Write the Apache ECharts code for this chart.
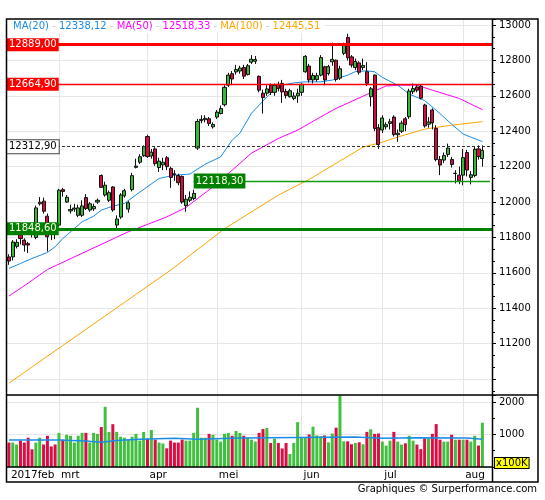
<!DOCTYPE html>
<html><head><meta charset="utf-8">
<script src="https://cdn.jsdelivr.net/npm/echarts@6/dist/echarts.min.js"></script>
<style>html,body{margin:0;padding:0;background:#fff}#c{width:545px;height:500px}</style>
</head><body><div id="c"></div>
<script>
// ---- categories (trading days) ----
const monthLabels = ['2017feb','mrt','apr','mei','jun','jul','aug'];
const febDays = [10,13,14,15,16,17,20,21,22,23,24,27,28];
const marDays = [1,2,3,6,7,8,9,10,13,14,15,16,17,20,21,22,23,24,27,28,29,30,31];
const aprDays = [3,4,5,6,7,10,11,12,13,18,19,20,21,24,25,26,27,28];
const meiDays = [2,3,4,5,8,9,10,11,12,15,16,17,18,19,22,23,24,25,26,29,30,31];
const junDays = [1,2,6,7,8,9,12,13,14,15,16,19,20,21,22,23,26,27,28,29,30];
const julDays = [3,4,5,6,7,10,11,12,13,14,17,18,19,20,21,24,25,26,27,28,31];
const augDays = [1,2,3,4,7,8];

// ---- price series ----
const opens = [11690,11690,11750,11815,11785,11765,11840,11800,11990,12005,11920,11830,11845,
11870,12070,12000,11950,11960,11925,11925,12025,11955,11962,12000,12150,12040,12010,12085,11870,11915,12035,11960,12070,12196,12225,12262,
12370,12260,12300,12195,12210,12250,12190,12160,12150,12145,11980,12010,12020,12305,12460,12465,12470,12425,
12480,12500,12550,12660,12725,12735,12740,12760,12720,12790,12795,12710,12615,12615,12660,12620,12665,12670,12625,12595,12585,12600,
12620,12736,12768,12690,12692,12717,12764,12726,12792,12801,12700,12840,12930,12820,12760,12786,12760,12736,12595,12717,12420,
12407,12425,12444,12480,12380,12400,12470,12482,12623,12650,12655,12548,12440,12520,12416,12240,12237,12269,12240,12161,12152,
12152,12280,12139,12150,12300,12246];
const closes = [11667,11774,11772,11794,11757,11757,11828,11967,11999,11948,11804,11823,11834,
12067,12060,12027,11958,11966,11967,11978,11963,11990,11975,12010,12083,12095,12053,11955,11904,12040,12064,11996,12149,12203,12256,12313,
12257,12282,12217,12231,12225,12200,12139,12155,12109,12000,12016,12027,12049,12455,12467,12473,12444,12438,
12508,12528,12648,12717,12695,12749,12757,12711,12770,12807,12805,12632,12590,12639,12619,12659,12642,12622,12602,12629,12599,12615,
12665,12823,12690,12715,12714,12816,12690,12765,12806,12692,12753,12889,12815,12774,12794,12733,12771,12671,12640,12416,12325,
12475,12437,12454,12381,12389,12446,12437,12627,12641,12632,12587,12430,12452,12447,12240,12209,12263,12305,12212,12163,12118,
12251,12181,12154,12298,12257,12292];
const lows = [11645,11670,11738,11760,11720,11712,11800,11790,11980,11935,11720,11785,11790,
11860,12030,11995,11935,11945,11915,11915,11955,11945,11950,11990,12080,12030,12000,11945,11848.6,11905,12025,11940,12060,12190,12215,12255,
12250,12245,12205,12170,12180,12180,12080,12120,12095,11990,11945,12000,12010,12295,12445,12450,12430,12415,
12470,12495,12540,12650,12660,12720,12725,12695,12715,12780,12780,12620,12500,12600,12605,12600,12625,12560,12585,12590,12575,12560,
12600,12730,12675,12670,12680,12710,12660,12715,12770,12680,12690,12830,12800,12760,12745,12720,12745,12655,12540,12400,12300,
12390,12410,12410,12370,12340,12390,12400,12470,12610,12620,12580,12420,12420,12410,12230,12152,12220,12255,12195,12105,12101,
12095,12145,12100,12140,12240,12200];
const highs = [11705,11785,11790,11835,11795,11775,11850,11980,12028,12025,11935,11840,11860,
12075,12080,12040,11985,11990,11985,12010,12045,12000,11990,12020,12156,12115,12065,12090,11925,12050,12075,12005,12165,12245,12270,12320,
12380,12300,12310,12250,12250,12260,12200,12180,12160,12150,12040,12060,12070,12470,12490,12490,12480,12450,
12520,12545,12660,12730,12740,12775,12770,12775,12780,12830,12825,12715,12635,12660,12670,12670,12680,12690,12640,12640,12620,12640,
12670,12830,12780,12730,12730,12830,12770,12775,12900,12805,12770,12900,12951,12830,12810,12795,12810,12790,12650,12720,12440,
12490,12450,12470,12490,12410,12460,12480,12640,12670,12665,12665,12555,12480,12530,12434,12260,12280,12330,12255,12180,12200,
12300,12295,12175,12312,12320,12320];

// ---- volume (x100K) ----
const volumes = [752,752,693,812,752,901,545,752,901,693,960,634,693,
1050,840,990,960,752,960,1050,1050,752,1050,1020,1228,1851,1079,1317,1079,931,901,842,931,1020,812,1079,
871,1138,842,752,723,574,812,752,752,842,812,812,1050,1822,901,901,1020,990,
842,782,1020,1050,960,1109,1050,960,901,842,782,1050,1168,1198,740,870,740,570,740,400,740,1380,
890,890,1000,1240,970,950,970,760,1030,1210,2200,790,790,700,740,760,700,1080,1160,1020,1030,
780,660,810,1080,780,690,730,960,810,690,550,880,880,1020,1320,840,780,780,990,840,840,
840,840,780,960,660,1360];
const volumeAvg = [[0,832],[13,802],[20,762],[24,812],[28,851],[34,881],[43,851],[49,891],[60,921],[90,881],[97,901],[106,891],[119,851],[123,851]];

// ---- moving averages: [bar index, value] ----
const ma20 = [[0,11625],[3,11653],[6,11681],[10,11715],[12,11747],[14,11794],[17,11851],[19,11888],[22,11920],[24,11954],[27,11977],[30,11992],
[34,12056],[39,12133],[43,12152],[47,12158],[51,12214],[55,12255],[58,12350],[60,12389],[63,12501],[67,12594],[70,12655],[74,12673],[77,12679],
[81,12679],[84,12689],[88,12717],[90,12737],[93,12741],[95,12736],[97,12704],[101,12660],[104,12610],[108,12573],[111,12519],[115,12440],[118,12384],[123,12341]];
const ma50 = [[0,11469],[5,11542],[10,11619],[31,11832],[41,11916],[46,11969],[53,12086],[58,12180],[63,12276],[70,12359],[75,12406],[81,12481],
[85,12529],[92,12598],[98,12656],[102,12660],[106,12660],[110,12632],[117,12585],[123,12522]];
const ma100 = [[0,10977],[42,11615],[56,11849],[70,12039],[78,12128],[92,12310],[97,12338],[101,12367],[108,12412],[115,12434],[123,12454]];
const legendValues = [12338.12, 12518.33, 12445.51];

// ---- horizontal levels ----
const levelValues = [12889.00, 12664.90, 12312.90, 12118.30, 11848.60];
const levelStartIndex = 48; // start bar of the 12118,30 line

// ---------------------------------------------------------------
const months = [febDays, marDays, aprDays, meiDays, junDays, julDays, augDays];
const cats = []; const monthStartIdx = {};
months.forEach((days, m) => {
  monthStartIdx[cats.length] = monthLabels[m];
  days.forEach(d => cats.push(m + '-' + d));
});
cats.push('pad1', 'pad2');
const lastIdx = cats.length - 1;
const isMonthStart = i => monthStartIdx[i] !== undefined;

const FONT = 'DejaVu Sans';
const GREEN = '#38b838', RED = '#d50b3d';
const VGREEN = '#3fc13f', VRED = '#dc0d45';
const C20 = '#1a8ce6', C50 = '#ff00ff', C100 = '#ffa500';
const DKGREEN = '#008000';
const fmt = v => v.toFixed(2).replace('.', ',');

const candles = closes.map((c, i) => [opens[i], c, lows[i], highs[i]]);
const volData = volumes.map((v, i) => ({value: v, itemStyle: {color: closes[i] >= opens[i] ? VGREEN : VRED}}));

function boxLabel(text, bg, fg, border, pad) {
  return {show: true, position: 'insideStart', distance: 0, fontSize: 10, fontFamily: FONT,
    color: fg, backgroundColor: bg, padding: pad || [1, 2, 0, 2], lineHeight: 12,
    borderColor: border || bg, borderWidth: border ? 1 : 0, formatter: text};
}
const thinGreen = {color: '#129a12', width: 1.3, type: 'solid', opacity: 1};

const option = {
  animation: false,
  backgroundColor: '#fff',
  title: {
    left: 7, top: 19, padding: [1, 4, 1, 6], backgroundColor: '#fff',
    text: '{b|MA(20)}{s| - }{b|' + fmt(legendValues[0]) + '}{s| - }{m|MA(50)}{s| - }{m|' + fmt(legendValues[1]) +
          '}{s| - }{o|MA(100)}{s| - }{o|' + fmt(legendValues[2]) + '}',
    textStyle: {fontSize: 10, fontFamily: FONT, lineHeight: 12, fontWeight: 'normal',
      rich: {b: {color: C20, fontSize: 10, fontFamily: FONT}, m: {color: C50, fontSize: 10, fontFamily: FONT},
             o: {color: C100, fontSize: 10, fontFamily: FONT}, s: {color: '#c8c8c8', fontSize: 10, fontFamily: FONT}}}
  },
  grid: [
    {left: 7, top: 19, width: 485, height: 376},
    {left: 7, top: 395, width: 485, height: 72}
  ],
  xAxis: [
    {type: 'category', gridIndex: 0, data: cats, boundaryGap: true,
     axisLine: {show: false}, axisTick: {show: false}, axisLabel: {show: false},
     splitLine: {show: true, alignWithLabel: true, interval: i => i > 0 && isMonthStart(i), lineStyle: {color: '#e6e6e6', width: 1}}},
    {type: 'category', gridIndex: 1, data: cats, boundaryGap: true,
     axisLine: {show: false}, axisTick: {show: false},
     axisLabel: {show: true, interval: i => isMonthStart(i), formatter: (v, i) => monthStartIdx[i] || '',
       align: 'left', padding: [0, 0, 0, 2], margin: 3, fontSize: 10.5, fontFamily: FONT, color: '#000'},
     splitLine: {show: true, alignWithLabel: true, interval: i => i > 0 && isMonthStart(i), lineStyle: {color: '#e6e6e6', width: 1}}}
  ],
  yAxis: [
    {type: 'value', gridIndex: 0, position: 'right', scale: true, min: 10910, max: 13034,
     splitNumber: 10, minInterval: 200, maxInterval: 200,
     axisLine: {show: false},
     axisTick: {show: true, length: 4, lineStyle: {color: '#000'}},
     minorTick: {show: true, splitNumber: 3, length: 3, lineStyle: {color: '#000'}},
     axisLabel: {showMinLabel: false, showMaxLabel: false, margin: 7, fontSize: 10, fontFamily: FONT, color: '#000',
       formatter: v => (v === 11000 ? '' : String(v))},
     splitLine: {show: true, lineStyle: {color: '#e6e6e6', width: 1}}},
    {type: 'value', gridIndex: 1, position: 'right', min: 0, max: 2215,
     splitNumber: 2, minInterval: 1000, maxInterval: 1000,
     axisLine: {show: false},
     axisTick: {show: true, length: 4, lineStyle: {color: '#000'}},
     minorTick: {show: true, splitNumber: 2, length: 3, lineStyle: {color: '#000'}},
     axisLabel: {showMaxLabel: false, margin: 7, fontSize: 10, fontFamily: FONT, color: '#000',
       formatter: v => (v === 0 ? '' : String(v))},
     splitLine: {show: true, lineStyle: {color: '#e6e6e6', width: 1}}}
  ],
  series: [
    {type: 'line', name: 'MA100', xAxisIndex: 0, yAxisIndex: 0, data: ma100, showSymbol: false, symbol: 'none',
     lineStyle: {color: C100, width: 1}, z: 2},
    {type: 'line', name: 'MA50', xAxisIndex: 0, yAxisIndex: 0, data: ma50, showSymbol: false, symbol: 'none',
     lineStyle: {color: C50, width: 1}, z: 2},
    {type: 'line', name: 'MA20', xAxisIndex: 0, yAxisIndex: 0, data: ma20, showSymbol: false, symbol: 'none',
     lineStyle: {color: C20, width: 1}, z: 2},
    {type: 'candlestick', name: 'price', xAxisIndex: 0, yAxisIndex: 0, data: candles, barWidth: 3.6, z: 3,
     itemStyle: {color: GREEN, color0: RED, borderColor: '#111', borderColor0: '#111', borderWidth: 1},
     markLine: {
       silent: true, symbol: ['none', 'none'], animation: false,
       data: [
         {yAxis: levelValues[0], lineStyle: {color: '#ff0000', width: 3, type: 'solid'}, label: boxLabel(fmt(levelValues[0]), '#ff0000', '#ffffff')},
         {yAxis: levelValues[1], lineStyle: {color: '#ff0000', width: 1.4, type: 'solid'}, label: boxLabel(fmt(levelValues[1]), '#ff0000', '#ffffff')},
         {yAxis: levelValues[2], lineStyle: {color: '#333', width: 1, type: [3, 2]}, label: boxLabel(fmt(levelValues[2]), '#ffffff', '#000', '#444')},
         [{coord: [levelStartIndex, levelValues[3]], lineStyle: thinGreen, itemStyle: {color: DKGREEN},
           label: boxLabel(fmt(levelValues[3]), DKGREEN, '#ffffe8', null, [2, 2, 1, 2])},
          {coord: [lastIdx, levelValues[3]], lineStyle: thinGreen, itemStyle: {color: DKGREEN}}],
         {yAxis: levelValues[4], lineStyle: {color: DKGREEN, width: 3, type: 'solid'}, label: boxLabel(fmt(levelValues[4]), DKGREEN, '#ffffe8')}
       ]
     }},
    {type: 'bar', name: 'volume', xAxisIndex: 1, yAxisIndex: 1, data: volData, barWidth: 3, z: 2},
    {type: 'line', name: 'volAvg', xAxisIndex: 1, yAxisIndex: 1, data: volumeAvg, step: 'end', showSymbol: false, symbol: 'none',
     lineStyle: {color: C20, width: 1.5}, z: 3}
  ],
  graphic: [
    {type: 'rect', z: 100, silent: true, shape: {x: 6.5, y: 19, width: 531.5, height: 463}, style: {fill: 'none', stroke: '#000', lineWidth: 1.5}},
    {type: 'line', z: 100, silent: true, shape: {x1: 6.5, y1: 395, x2: 538, y2: 395}, style: {stroke: '#000', lineWidth: 1.5}},
    {type: 'line', z: 100, silent: true, shape: {x1: 492.5, y1: 19, x2: 492.5, y2: 482}, style: {stroke: '#000', lineWidth: 1.5}},
    {type: 'line', z: 100, silent: true, shape: {x1: 6.5, y1: 467, x2: 492.5, y2: 467}, style: {stroke: '#000', lineWidth: 1.5}},
    {type: 'text', z: 101, silent: true, left: 494, top: 457,
     style: {text: 'x100K', font: '10px "DejaVu Sans"', fill: '#000', backgroundColor: '#ffff00', borderColor: '#000', borderWidth: 1, padding: [0, 1, 0, 1]}},
    {type: 'text', z: 101, silent: true, right: 8, top: 484,
     style: {text: 'Graphiques \u00a9 Surperformance.com', font: '10px "DejaVu Sans"', fill: '#000'}}
  ]
};
const chart = echarts.init(document.getElementById('c'), null, {renderer: 'canvas'});
chart.setOption(option);
</script>
</body></html>
